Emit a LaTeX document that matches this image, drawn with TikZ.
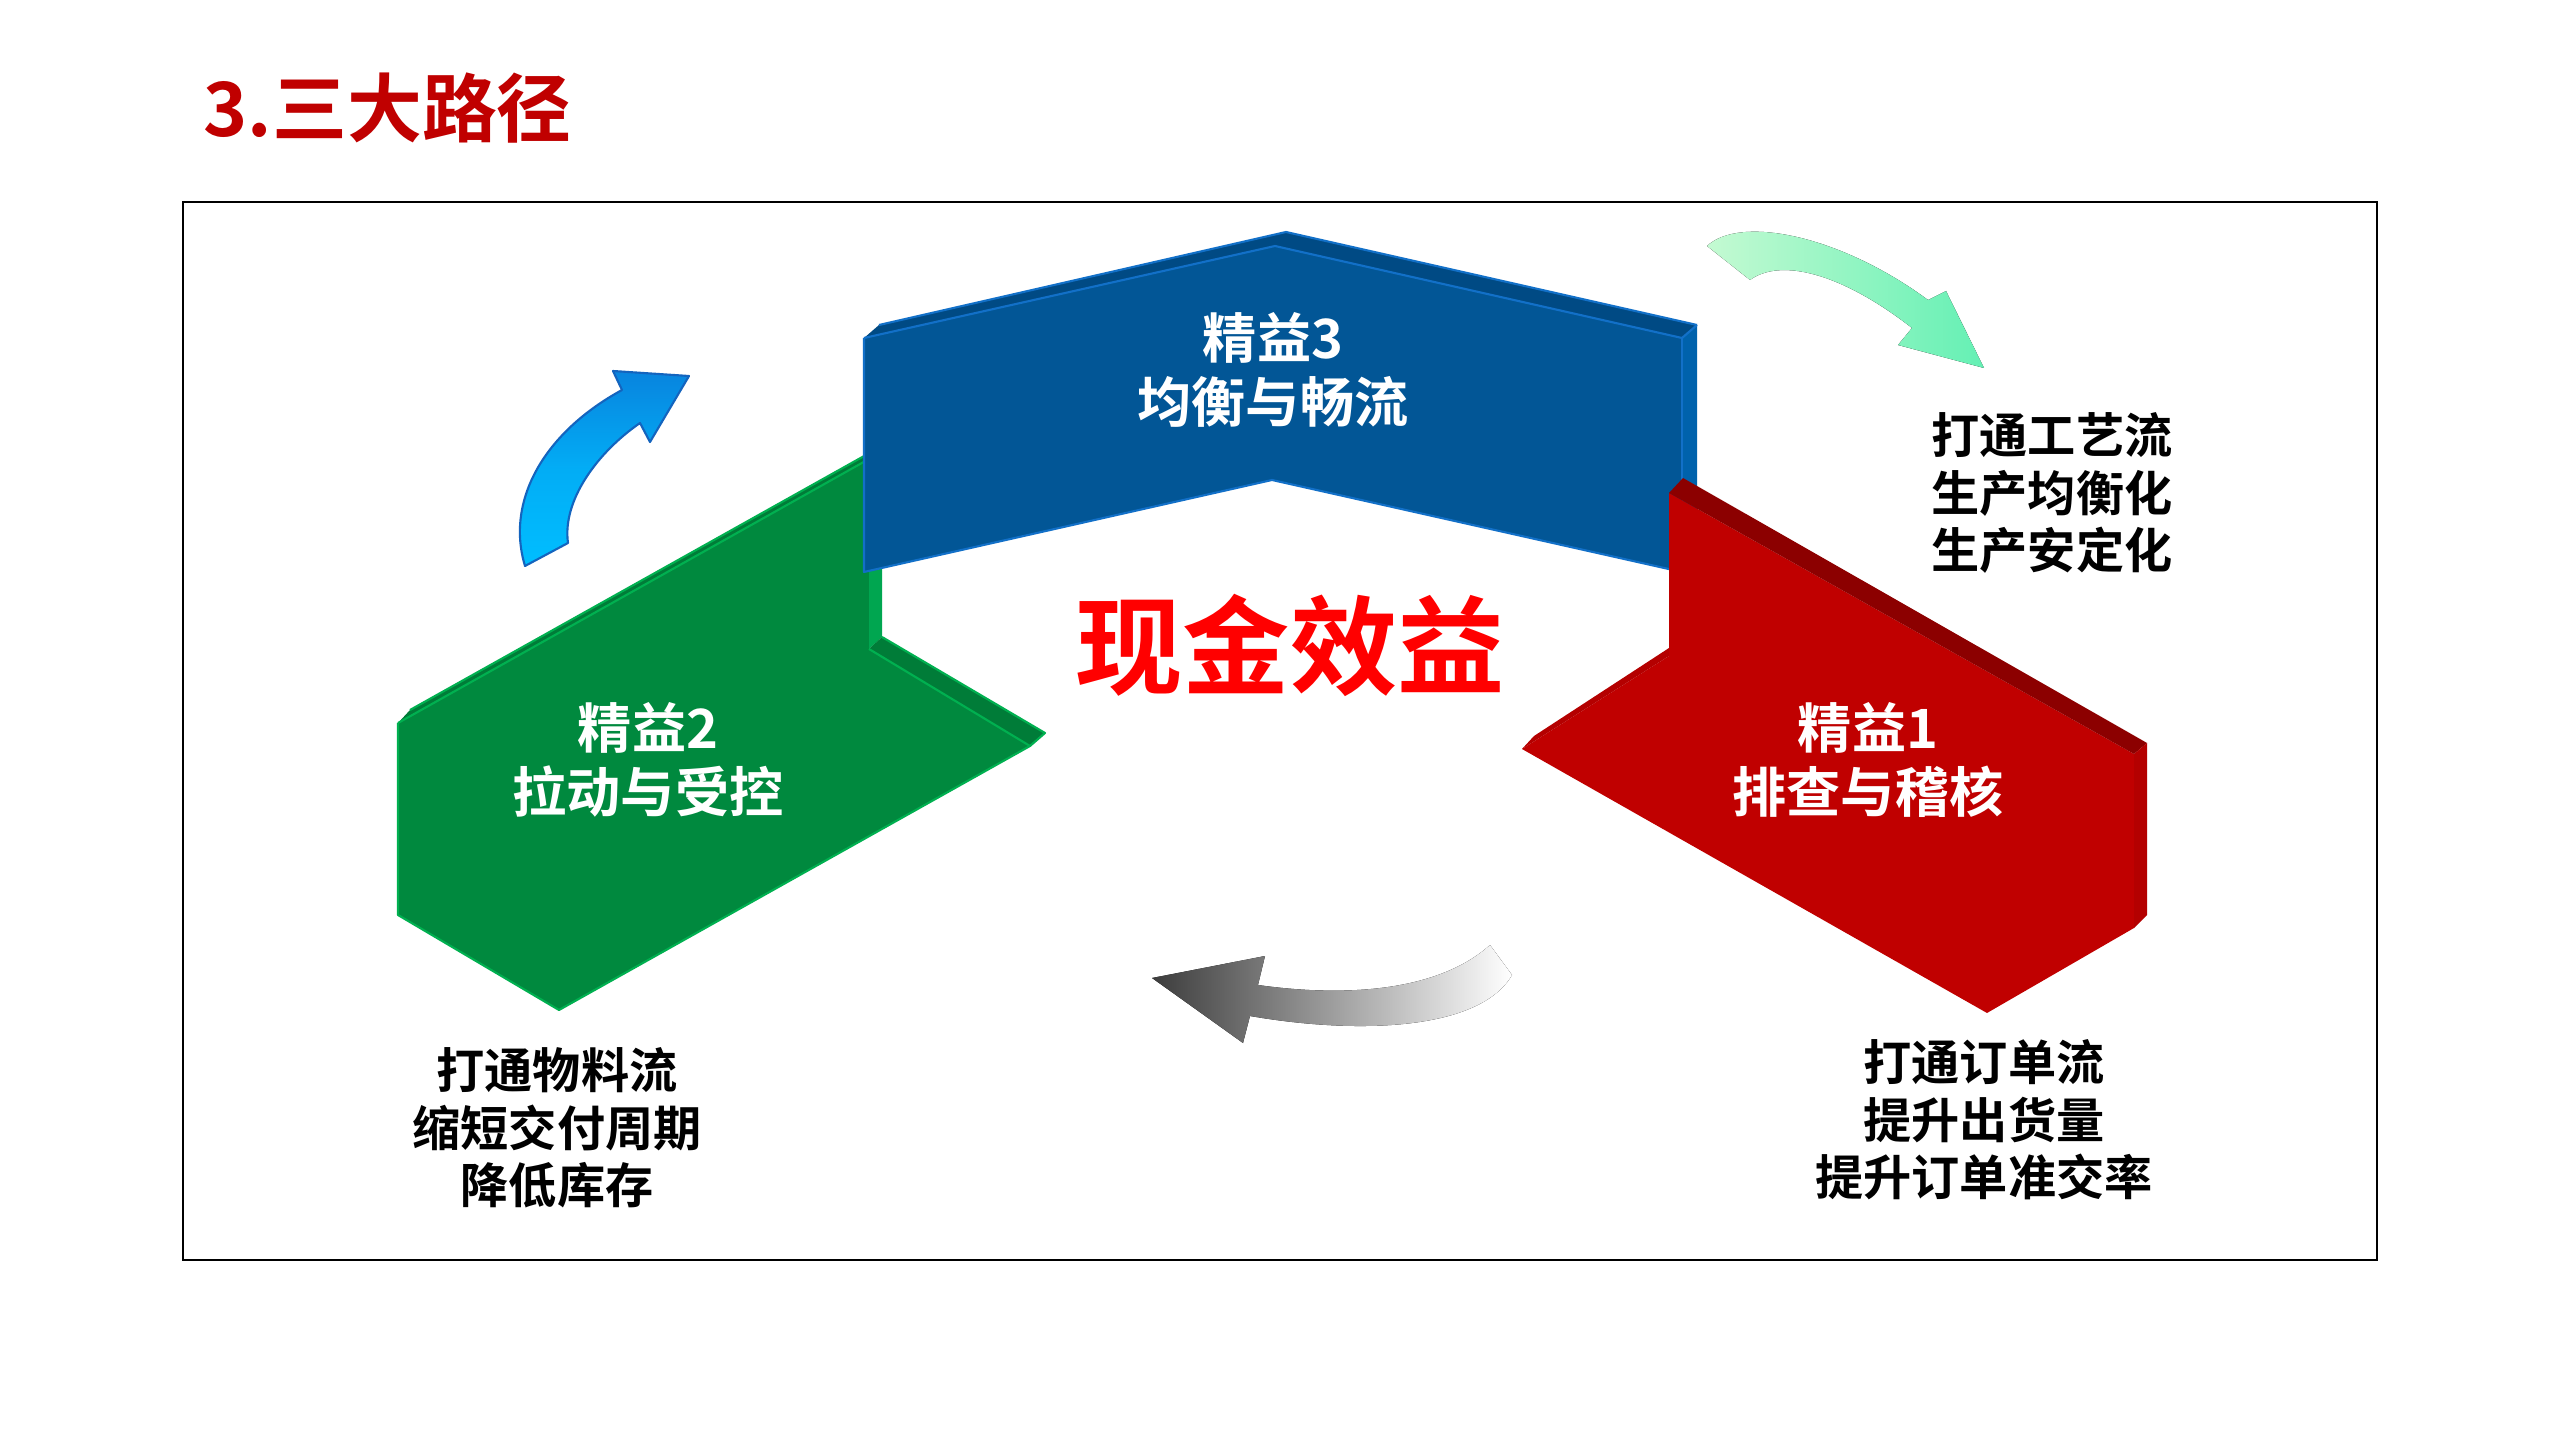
\documentclass[tikz,border=0pt]{standalone}
\usepackage{fontspec}
\newfontfamily\cjkb{Noto Sans CJK SC Bold}
\definecolor{titlered}{RGB}{192,0,0}
\definecolor{gmain}{RGB}{0,137,62}
\definecolor{gbevel}{RGB}{0,124,56}
\definecolor{gside}{RGB}{0,166,80}
\definecolor{gedge}{RGB}{0,176,80}
\definecolor{bmain}{RGB}{2,86,150}
\definecolor{bbevel}{RGB}{0,74,132}
\definecolor{bside}{RGB}{0,98,172}
\definecolor{bedge}{RGB}{18,112,200}
\definecolor{rmain}{RGB}{192,0,0}
\definecolor{rbevel}{RGB}{140,0,0}
\definecolor{rside}{RGB}{180,0,0}
\definecolor{arrblue1}{RGB}{0,190,255}
\definecolor{arrblue2}{RGB}{8,132,222}
\definecolor{arrbline}{RGB}{20,100,190}
\definecolor{mint1}{RGB}{196,250,210}
\definecolor{mint2}{RGB}{100,240,180}
\definecolor{gray1}{RGB}{60,60,60}
\definecolor{gray2}{RGB}{220,220,220}
\tikzset{
  lab/.style={text=white, font=\cjkb\fontsize{15.4}{18.2}\selectfont, align=center, inner sep=0pt},
  side/.style={text=black, font=\cjkb\fontsize{13.7}{16.4}\selectfont, align=center, inner sep=0pt},
  edgeline/.style={line width=0.6pt, line join=round}
}
\begin{document}
\begin{tikzpicture}[x=0.01cm,y=-0.01cm]
\useasboundingbox (0,0) rectangle (2560,1440);
\fill[white] (0,0) rectangle (2560,1440);

% title
\node[anchor=west, text=titlered, font=\cjkb\fontsize{21.3}{25}\selectfont, inner sep=0pt] (title) at (203,108) {3.三大路径};

% frame
\draw[line width=0.75pt] (183,202) rectangle (2377,1260);

% blue curved arrow (left)
\path[draw=arrbline, line width=0.6pt, line join=round, top color=arrblue2, bottom color=arrblue1, middle color=arrblue1!70!arrblue2]
  (525,566) .. controls (505,500) and (545,432) .. (622,390) -- (613,371) -- (689,376) -- (650,442) -- (640,423)
  .. controls (598,452) and (562,500) .. (568,543) -- cycle;

% green chevron (精益2)
\fill[gmain] (398,723) -- (869,459) -- (869,649) -- (1030,746) -- (559,1010) -- (398,915) -- cycle;
\fill[gbevel] (398,723) -- (410,710) -- (882,446) -- (869,459) -- cycle;
\draw[gedge, edgeline] (398,723) -- (869,459);
\draw[gedge, edgeline] (410,710) -- (882,446);
\fill[gside] (869,459) -- (882,446) -- (882,637) -- (869,649) -- cycle;
\fill[gbevel] (869,649) -- (882,637) -- (1045,733) -- (1030,746) -- cycle;
\draw[gedge, edgeline] (869,649) -- (1030,746) -- (559,1010) -- (398,915) -- (398,723);
\draw[gedge, edgeline] (882,637) -- (1045,733) -- (1030,746);

% blue chevron (精益3)
\fill[bmain] (864,338) -- (1275,246) -- (1682,338) -- (1682,572) -- (1272,480) -- (864,572) -- cycle;
\fill[bbevel] (864,338) -- (879,325) -- (1286,232) -- (1697,325) -- (1682,338) -- (1275,246) -- cycle;
\fill[bside] (1682,338) -- (1697,325) -- (1697,565) -- (1682,572) -- cycle;
\draw[bedge, edgeline] (864,338) -- (1275,246) -- (1682,338) -- (1697,325);
\draw[bedge, edgeline] (879,325) -- (1286,232) -- (1697,325);
\draw[bedge, edgeline] (1682,338) -- (1682,572);
\draw[bedge, edgeline] (864,338) -- (864,572) -- (1272,480) -- (1682,572);

% red chevron (精益1)
\fill[rmain] (1669,493) -- (2134,754) -- (2134,928) -- (1987,1013) -- (1522,749) -- (1669,656) -- cycle;
\fill[rbevel] (1669,493) -- (1683,478) -- (2147,743) -- (2134,754) -- cycle;
\fill[rside] (2134,754) -- (2147,743) -- (2147,915) -- (2134,928) -- cycle;
\fill[rside] (1669,648) -- (1669,656) -- (1522,749) -- (1534,736) -- cycle;

% green curved arrow (top right)
\fill[left color=mint1, right color=mint2]
  (1707,246) .. controls (1740,215) and (1840,235) .. (1928,300) -- (1946,291) -- (1984,368) -- (1898,345) -- (1912,328)
  .. controls (1840,272) and (1780,258) .. (1750,280) -- cycle;

% gray curved arrow (bottom)
\fill[left color=gray1, middle color=gray2, right color=white]
  (1152,978) -- (1265,956) -- (1258,985) .. controls (1350,998) and (1440,990) .. (1490,945)
  -- (1512,975) .. controls (1480,1030) and (1360,1035) .. (1250,1016) -- (1243,1043) -- cycle;

% labels
\node[lab] (l3) at (1273,370) {精益3\\均衡与畅流};
\node[lab] (l2) at (648,760) {精益2\\拉动与受控};
\node[lab] (l1) at (1868,760) {精益1\\排查与稽核};
\node[text=red, font=\cjkb\fontsize{30.5}{34}\selectfont, inner sep=0pt] (cash) at (1290,645) {现金效益};

\node[side] (t3) at (2052,493) {打通工艺流\\生产均衡化\\生产安定化};
\node[side] (t2) at (557,1128) {打通物料流\\缩短交付周期\\降低库存};
\node[side] (t1) at (1984,1120) {打通订单流\\提升出货量\\提升订单准交率};
\end{tikzpicture}
\end{document}
